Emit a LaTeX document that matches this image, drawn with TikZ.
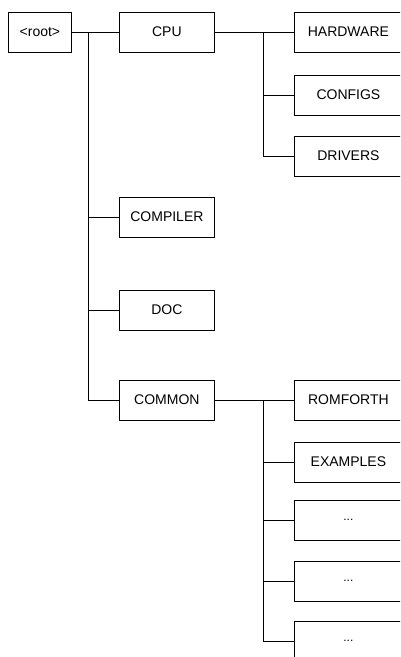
\documentclass[tikz,border=0pt]{standalone}
\usepackage{fontspec}
\setmainfont{Liberation Sans}
\begin{document}
\begin{tikzpicture}[
  x=1pt, y=-1pt, font=\fontsize{14}{16}\selectfont,
  box/.style={draw, line width=0.8pt, minimum height=40pt, minimum width=#1, inner sep=0pt, anchor=west},
  box/.default=95pt,
  wire/.style={line width=0.8pt, black}
]
\clip (0,0) rectangle (400,657);

%% Root and first level
\node[box=63pt] (root) at (8,32) {<root>};
\node[box] (cpu) at (119,32) {CPU};
\node[box] (compiler) at (119,217) {COMPILER};
\node[box] (doc) at (119,310) {DOC};
\node[box] (common) at (119,400) {COMMON};

%% Below CPU
\node[box=108pt] (hardware) at (294,32) {HARDWARE};
\node[box=108pt] (configs) at (294,95) {CONFIGS};
\node[box=108pt] (drivers) at (294,156) {DRIVERS};

%% Below COMMON
\node[box=108pt] (romforth) at (294,400) {ROMFORTH};
\node[box=108pt] (examples) at (294,462) {EXAMPLES};
\node[box=108pt, font=\fontsize{12}{14}\selectfont] (more1) at (294,520) {...};
\node[box=108pt, font=\fontsize{12}{14}\selectfont] (more2) at (294,581) {...};
\node[box=108pt, font=\fontsize{12}{14}\selectfont] (more3) at (294,641) {...};

%% Bus points
\coordinate (rootbus) at (88,32);
\coordinate (cpubus) at (263,32);
\coordinate (commonbus) at (263,400);

%% Connectors
\draw[wire] (root) -- (cpu);
\draw[wire] (rootbus) |- (compiler.west);
\draw[wire] (rootbus) |- (doc.west);
\draw[wire] (rootbus) |- (common.west);
\draw[wire] (cpu) -- (hardware);
\draw[wire] (cpubus) |- (configs.west);
\draw[wire] (cpubus) |- (drivers.west);
\draw[wire] (common) -- (romforth);
\draw[wire] (commonbus) |- (examples.west);
\draw[wire] (commonbus) |- (more1.west);
\draw[wire] (commonbus) |- (more2.west);
\draw[wire] (commonbus) |- (more3.west);
\end{tikzpicture}
\end{document}
